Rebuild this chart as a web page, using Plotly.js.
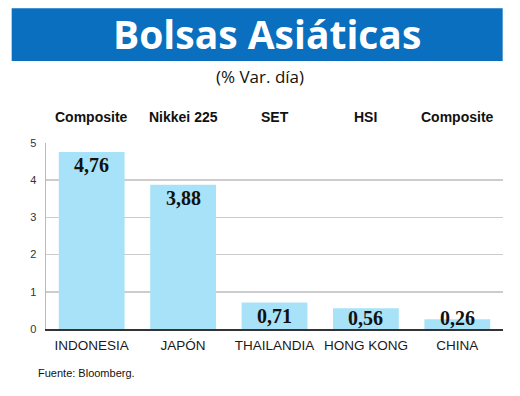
<!DOCTYPE html>
<html>
<head>
<meta charset="utf-8">
<script src="https://cdn.plot.ly/plotly-3.0.1.min.js"></script>
<style>
  html, body { margin: 0; padding: 0; background: #ffffff; }
  #chart { width: 520px; height: 396px; }
</style>
</head>
<body>
<div id="chart"></div>
<script>
// ---- data ----
var countries = ["INDONESIA", "JAPÓN", "THAILANDIA", "HONG KONG", "CHINA"];
var indices = ["Composite", "Nikkei 225", "SET", "HSI", "Composite"];
var values = [4.76, 3.88, 0.71, 0.56, 0.26];
var valueLabels = ["4,76", "3,88", "0,71", "0,56", "0,26"];
var yTicks = [0, 1, 2, 3, 4, 5];

// ---- styles ----
var barColor = "#a8e2f8";
var bannerColor = "#0a6fbe";
var narrow = "'Liberation Sans Narrow', 'Liberation Sans', Arial, sans-serif";
var serif = "'Liberation Serif', 'Times New Roman', serif";
var sans = "'Open Sans', 'Noto Sans', sans-serif";

var trace = {
  type: "bar",
  x: countries,
  y: values,
  marker: { color: barColor, line: { width: 0 } },
  hoverinfo: "skip"
};

var annotations = [];
for (var i = 0; i < countries.length; i++) {
  // value labels near the top of each bar (kept above the baseline)
  annotations.push({
    x: countries[i],
    y: Math.max(values[i], 0.65),
    xref: "x", yref: "y",
    text: "<b>" + valueLabels[i] + "</b>",
    showarrow: false,
    yanchor: "top",
    yshift: 0,
    font: { family: serif, size: 20, color: "#111111" }
  });
  // index names above the plot
  annotations.push({
    x: countries[i],
    y: 1.14,
    xref: "x", yref: "paper",
    text: "<b>" + indices[i] + "</b>",
    showarrow: false,
    yanchor: "middle",
    font: { family: narrow, size: 14, color: "#111111" }
  });
}
// title in banner
annotations.push({
  x: 0.4825, y: 1.59, xref: "paper", yref: "paper",
  text: "<b>Bolsas Asiáticas</b>", showarrow: false,
  xanchor: "center", yanchor: "middle",
  font: { family: sans, size: 39, color: "#ffffff" }
});
// subtitle
annotations.push({
  x: 0.4683, y: 1.355, xref: "paper", yref: "paper",
  text: "(% Var. día)", showarrow: false,
  xanchor: "center", yanchor: "middle",
  font: { family: sans, size: 17, color: "#111111" }
});
// source
annotations.push({
  x: -0.0225, y: -0.2366, xref: "paper", yref: "paper",
  text: "Fuente: Bloomberg.", showarrow: false,
  xanchor: "left", yanchor: "middle",
  font: { family: narrow, size: 11, color: "#111111" }
});

var layout = {
  width: 520,
  height: 396,
  margin: { l: 46, r: 17, t: 143, b: 67, pad: 0 },
  paper_bgcolor: "#ffffff",
  plot_bgcolor: "#ffffff",
  showlegend: false,
  bargap: 0.28,
  xaxis: {
    type: "category",
    showgrid: false,
    showline: true,
    linecolor: "#333333",
    linewidth: 1.5,
    ticks: "outside",
    ticklen: 3,
    tickcolor: "rgba(0,0,0,0)",
    tickangle: 0,
    tickfont: { family: narrow, size: 13.5, color: "#1a1a1a" },
    fixedrange: true
  },
  yaxis: {
    range: [0, 5],
    tickvals: yTicks,
    ticktext: yTicks.map(String),
    showgrid: true,
    gridcolor: "#cccccc",
    gridwidth: 1.5,
    zeroline: false,
    showline: true,
    linecolor: "#bbbbbb",
    linewidth: 1.5,
    ticks: "outside",
    ticklen: 6,
    tickcolor: "rgba(0,0,0,0)",
    tickfont: { family: narrow, size: 11, color: "#333333" },
    fixedrange: true
  },
  shapes: [{
    type: "rect", xref: "paper", yref: "paper",
    x0: -0.0751, x1: 0.9993, y0: 1.441, y1: 1.724,
    fillcolor: bannerColor, line: { width: 0 }, layer: "below"
  }],
  annotations: annotations
};

Plotly.newPlot("chart", [trace], layout, { displayModeBar: false, staticPlot: true });
</script>
</body>
</html>
